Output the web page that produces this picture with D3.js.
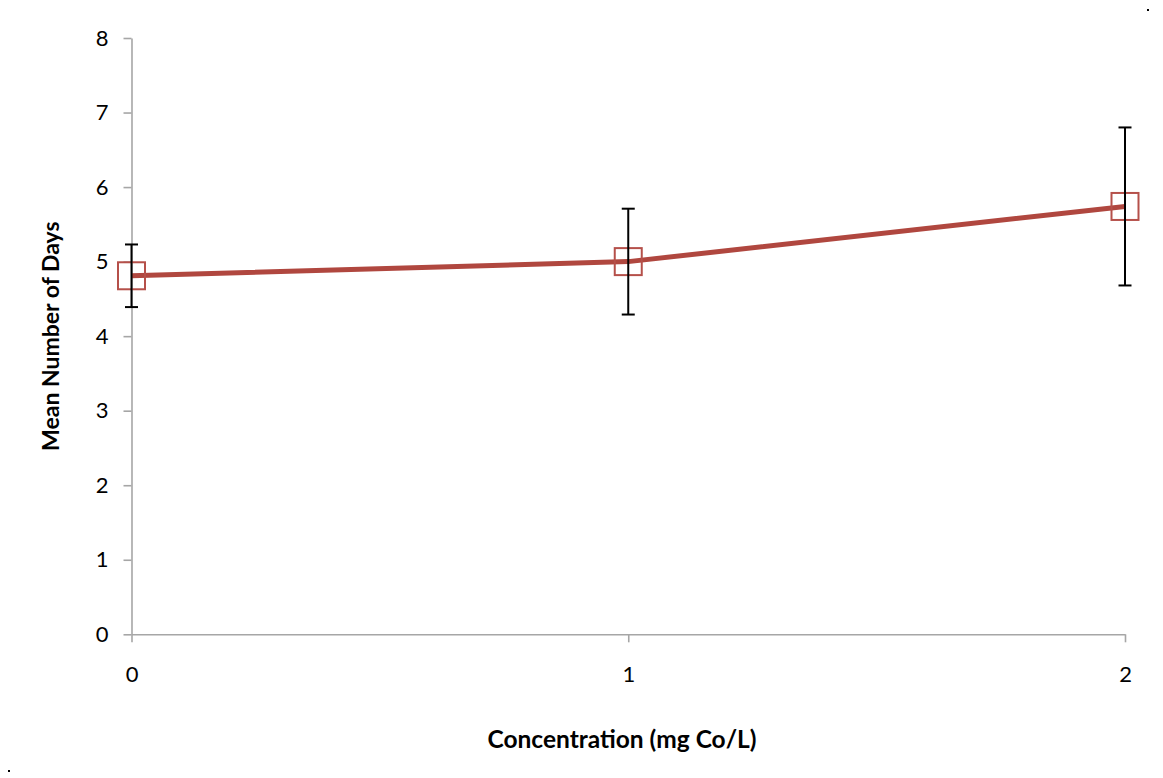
<!DOCTYPE html>
<html>
<head>
<meta charset="utf-8">
<script src="https://cdn.jsdelivr.net/npm/d3@7"></script>
<style>
  body { margin: 0; background: #fff; }
  svg text { font-family: Lato, "Open Sans", sans-serif; fill: #000; }
</style>
</head>
<body>
<svg id="chart" width="1163" height="778"></svg>
<script>
// Chart data
const concentrations = [0, 1, 2];
const meanDays = [4.81, 5.00, 5.74];
const errDays = [0.42, 0.71, 1.06];
const yTicks = [0, 1, 2, 3, 4, 5, 6, 7, 8];

const svg = d3.select("#chart");
const margin = { left: 131.5, right: 38, top: 38, bottom: 143.7 };
const width = 1163, height = 778;

const x = d3.scaleLinear().domain([0, 2]).range([margin.left, width - margin.right]);
const y = d3.scaleLinear().domain([0, 8]).range([height - margin.bottom, margin.top]);

const axisColor = "#a6a6a6";

// Y axis
const yAxis = svg.append("g")
    .attr("transform", `translate(${margin.left},0)`)
    .call(d3.axisLeft(y).tickValues(yTicks).tickSize(8).tickPadding(15).tickSizeOuter(0));
yAxis.select(".domain").attr("stroke", axisColor).attr("stroke-width", 1.6);
yAxis.selectAll(".tick line").attr("stroke", axisColor).attr("stroke-width", 1.6);
yAxis.selectAll(".tick text").style("font-size", "22px");

// X axis
const xAxis = svg.append("g")
    .attr("transform", `translate(0,${y(0)})`)
    .call(d3.axisBottom(x).tickValues(concentrations).tickFormat(d3.format("d")).tickSize(8).tickPadding(24).tickSizeOuter(0));
xAxis.select(".domain").attr("stroke", axisColor).attr("stroke-width", 1.6);
xAxis.selectAll(".tick line").attr("stroke", axisColor).attr("stroke-width", 1.6);
xAxis.selectAll(".tick text").style("font-size", "22px");

// Axis titles
svg.append("text")
    .attr("x", 622)
    .attr("y", 748)
    .attr("text-anchor", "middle")
    .style("font-size", "24.5px")
    .attr("font-weight", "bold")
    .text("Concentration (mg Co/L)");

svg.append("text")
    .attr("transform", `translate(59,${y(4)}) rotate(-90)`)
    .attr("text-anchor", "middle")
    .style("font-size", "23px")
    .attr("font-weight", "bold")
    .text("Mean Number of Days");

const points = concentrations.map((c, i) => ({ c: c, m: meanDays[i], e: errDays[i] }));

// Series line
svg.append("path")
    .datum(points)
    .attr("fill", "none")
    .attr("stroke", "#b0473f")
    .attr("stroke-width", 5)
    .attr("d", d3.line().x(d => x(d.c)).y(d => y(d.m)));

// Markers
svg.selectAll(".marker")
    .data(points)
    .enter().append("rect")
    .attr("x", d => x(d.c) - 13.5)
    .attr("y", d => y(d.m) - 13.5)
    .attr("width", 27)
    .attr("height", 27)
    .attr("fill", "none")
    .attr("stroke", "#b5504a")
    .attr("stroke-width", 2);

// Error bars
const eb = svg.selectAll(".err").data(points).enter().append("g");
eb.append("line")
    .attr("x1", d => x(d.c)).attr("x2", d => x(d.c))
    .attr("y1", d => y(d.m + d.e)).attr("y2", d => y(d.m - d.e))
    .attr("stroke", "#000").attr("stroke-width", 2);
eb.append("line")
    .attr("x1", d => x(d.c) - 6.5).attr("x2", d => x(d.c) + 6.5)
    .attr("y1", d => y(d.m + d.e)).attr("y2", d => y(d.m + d.e))
    .attr("stroke", "#000").attr("stroke-width", 2);
eb.append("line")
    .attr("x1", d => x(d.c) - 6.5).attr("x2", d => x(d.c) + 6.5)
    .attr("y1", d => y(d.m - d.e)).attr("y2", d => y(d.m - d.e))
    .attr("stroke", "#000").attr("stroke-width", 2);

// Corner specks
svg.append("rect").attr("x", 1147).attr("y", 9).attr("width", 2).attr("height", 2).attr("fill", "#000");
svg.append("rect").attr("x", 8).attr("y", 770).attr("width", 2).attr("height", 2).attr("fill", "#000");
</script>
</body>
</html>
